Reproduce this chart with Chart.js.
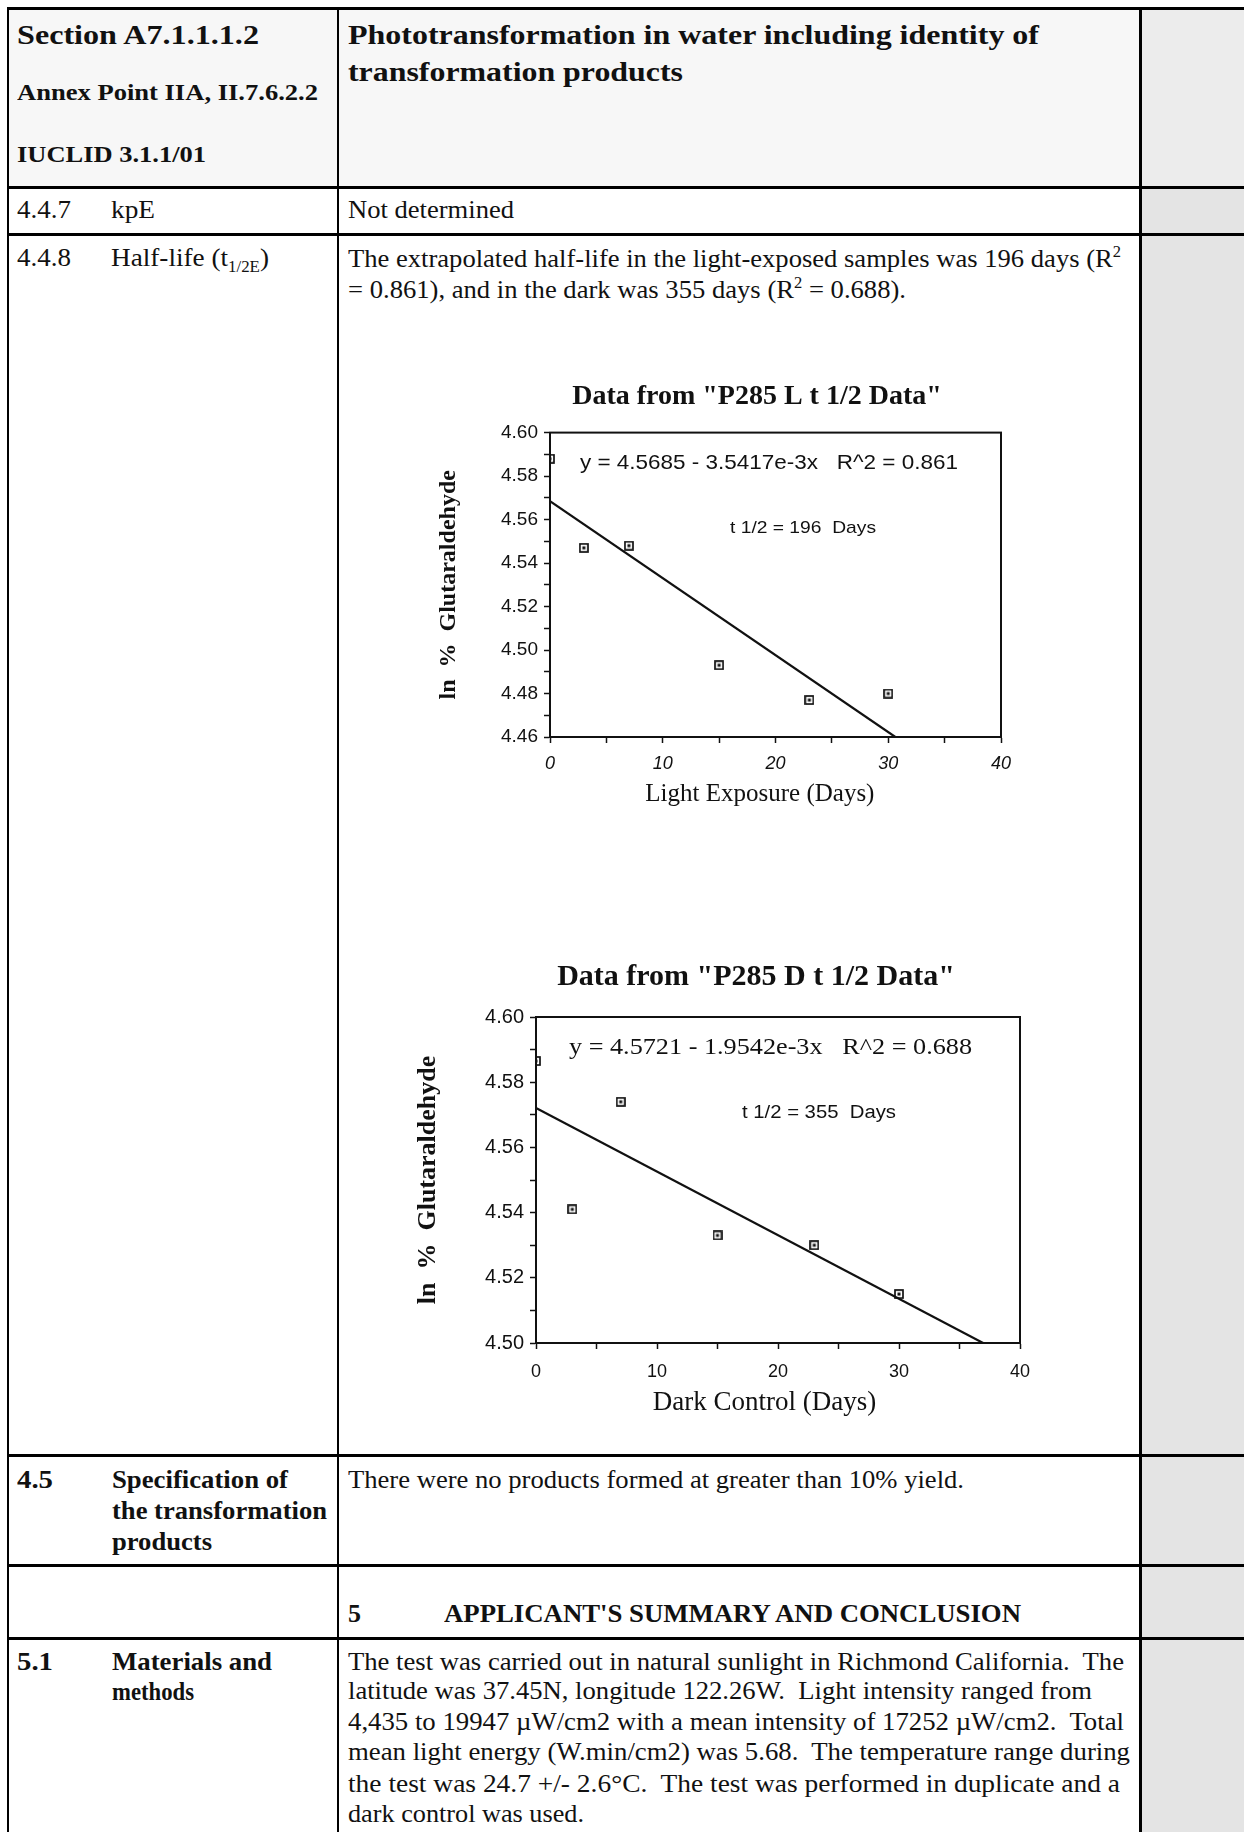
<!DOCTYPE html>
<html>
<head>
<meta charset="utf-8">
<script src="https://cdn.jsdelivr.net/npm/chart.js@4.4.0/dist/chart.umd.min.js"></script>
<style>
body { margin: 0; background: #fff; }
#page { position: relative; width: 1244px; height: 1832px; overflow: hidden; background: #fff;
        font-family: "Liberation Serif", "Times New Roman", serif; color: #111; }
.t { position: absolute; white-space: nowrap; line-height: 30px; height: 30px; font-size: 26px; transform-origin: 0 50%; }
.b { font-weight: bold; }
.ln { position: absolute; background: #000; }
.bg { position: absolute; }
canvas { position: absolute; }
sup, sub { font-size: 62%; line-height: 0; }
</style>
</head>
<body>
<div id="page">
  <!-- cell shading -->
  <div class="bg" style="left:9px;top:10px;width:1130px;height:176px;background:#f7f7f7"></div>
  <div class="bg" style="left:1142px;top:10px;width:102px;height:176px;background:#ececec"></div>
  <div class="bg" style="left:1142px;top:189px;width:102px;height:1643px;background:#e4e4e4"></div>

  <!-- table rules -->
  <div class="ln" style="left:7px;top:7px;width:1237px;height:3px"></div>
  <div class="ln" style="left:7px;top:186px;width:1237px;height:3px"></div>
  <div class="ln" style="left:7px;top:233px;width:1237px;height:3px"></div>
  <div class="ln" style="left:7px;top:1454px;width:1237px;height:3px"></div>
  <div class="ln" style="left:7px;top:1564px;width:1237px;height:3px"></div>
  <div class="ln" style="left:7px;top:1637px;width:1237px;height:3px"></div>
  <div class="ln" style="left:7px;top:7px;width:2px;height:1825px"></div>
  <div class="ln" style="left:337px;top:7px;width:2px;height:1825px"></div>
  <div class="ln" style="left:1139px;top:7px;width:3px;height:1825px"></div>

  <!-- header row -->
  <div class="t b" style="left:17px;top:20px;font-size:27px" data-w="242">Section A7.1.1.1.2</div>
  <div class="t b" style="left:17px;top:77px;font-size:24px" data-w="301">Annex Point IIA, II.7.6.2.2</div>
  <div class="t b" style="left:17px;top:139px;font-size:24px" data-w="189">IUCLID 3.1.1/01</div>
  <div class="t b" style="left:348px;top:20px;font-size:27px" data-w="691">Phototransformation in water including identity of</div>
  <div class="t b" style="left:348px;top:57px;font-size:27px" data-w="335">transformation products</div>

  <!-- 4.4.7 -->
  <div class="t" style="left:17px;top:195px" data-w="54">4.4.7</div>
  <div class="t" style="left:111px;top:195px" data-w="44">kpE</div>
  <div class="t" style="left:348px;top:195px" data-w="166">Not determined</div>

  <!-- 4.4.8 -->
  <div class="t" style="left:17px;top:243px" data-w="54">4.4.8</div>
  <div class="t" style="left:111px;top:243px" data-w="158">Half-life (t<sub>1/2E</sub>)</div>
  <div class="t" style="left:348px;top:244px" data-w="773">The extrapolated half-life in the light-exposed samples was 196 days (R<sup>2</sup></div>
  <div class="t" style="left:348px;top:275px" data-w="558">= 0.861), and in the dark was 355 days (R<sup>2</sup> = 0.688).</div>

  <canvas id="lightChart" width="714" height="450" style="left:400px;top:372px"></canvas>
  <canvas id="darkChart" width="732" height="490" style="left:390px;top:945px"></canvas>

  <!-- 4.5 -->
  <div class="t b" style="left:17px;top:1465px" data-w="36">4.5</div>
  <div class="t b" style="left:112px;top:1465px" data-w="176">Specification of</div>
  <div class="t b" style="left:112px;top:1496px" data-w="215">the transformation</div>
  <div class="t b" style="left:112px;top:1527px" data-w="100">products</div>
  <div class="t" style="left:348px;top:1465px" data-w="616">There were no products formed at greater than 10% yield.</div>

  <!-- 5 -->
  <div class="t b" style="left:348px;top:1599px">5</div>
  <div class="t b" style="left:444px;top:1599px" data-w="577">APPLICANT'S SUMMARY AND CONCLUSION</div>

  <!-- 5.1 -->
  <div class="t b" style="left:17px;top:1647px" data-w="36">5.1</div>
  <div class="t b" style="left:112px;top:1647px" data-w="160">Materials and</div>
  <div class="t b" style="left:112px;top:1677px" data-w="82">methods</div>
  <div class="t" style="left:348px;top:1647px" data-w="776">The test was carried out in natural sunlight in Richmond California.&nbsp; The</div>
  <div class="t" style="left:348px;top:1676px" data-w="744">latitude was 37.45N, longitude 122.26W.&nbsp; Light intensity ranged from</div>
  <div class="t" style="left:348px;top:1707px" data-w="776">4,435 to 19947 µW/cm2 with a mean intensity of 17252 µW/cm2.&nbsp; Total</div>
  <div class="t" style="left:348px;top:1737px" data-w="782">mean light energy (W.min/cm2) was 5.68.&nbsp; The temperature range during</div>
  <div class="t" style="left:348px;top:1769px" data-w="772">the test was 24.7 +/- 2.6°C.&nbsp; The test was performed in duplicate and a</div>
  <div class="t" style="left:348px;top:1799px" data-w="236">dark control was used.</div>
</div>

<script>
// Sampling days (same for both plots)
const days = [0, 3, 7, 15, 23, 30];

// ln % glutaraldehyde
const lightLnPct = [4.588, 4.547, 4.548, 4.493, 4.477, 4.480];
const darkLnPct = [4.5865, 4.541, 4.574, 4.533, 4.530, 4.515];

// regression line end points as drawn
const lightFitDays = [0, 30.63];
const lightFitLn = [4.5685, 4.46];
const darkFitDays = [0, 36.95];
const darkFitLn = [4.5721, 4.50];

// tick labels
const xTicks = [0, 10, 20, 30, 40];
const lightYTicks = [4.46, 4.48, 4.50, 4.52, 4.54, 4.56, 4.58, 4.60];
const darkYTicks = [4.50, 4.52, 4.54, 4.56, 4.58, 4.60];

// squeeze the table text to the widths in the scan
document.querySelectorAll('.t[data-w]').forEach(function (el) {
    const w = el.getBoundingClientRect().width;
    el.style.transform = 'scaleX(' + (el.dataset.w / w) + ')';
});

// square marker with a dot in it
function makeMarker(size) {
    const c = document.createElement('canvas');
    c.width = size;
    c.height = size;
    const g = c.getContext('2d');
    g.strokeStyle = '#111';
    g.lineWidth = 1.7;
    g.strokeRect(1, 1, size - 2, size - 2);
    g.fillStyle = '#111';
    g.fillRect(size / 2 - 1.5, size / 2 - 1.5, 3, 3);
    return c;
}

function hasTick(list, v) {
    return list.some(t => Math.abs(t - v) < 1e-6);
}

// frame round the plot area plus the fit text
const framePlugin = {
    id: 'frame',
    afterDraw(chart, args, opts) {
        const a = chart.chartArea;
        const ctx = chart.ctx;
        ctx.save();
        ctx.strokeStyle = '#111';
        ctx.lineWidth = 2;
        ctx.strokeRect(a.left, a.top, a.right - a.left, a.bottom - a.top);
        ctx.fillStyle = '#111';
        ctx.textBaseline = 'middle';
        (opts.notes || []).forEach(n => {
            ctx.font = n.font;
            const m = ctx.measureText(n.text).width;
            ctx.save();
            ctx.translate(n.x, n.y);
            ctx.scale(n.w / m, 1);
            ctx.fillText(n.text, 0, 0);
            ctx.restore();
        });
        ctx.restore();
    }
};

function buildChart(id, o) {
    return new Chart(document.getElementById(id), {
        type: 'scatter',
        data: {
            datasets: [
                {
                    data: days.map((d, i) => ({ x: d, y: o.values[i] })),
                    pointStyle: makeMarker(o.marker),
                    pointRadius: o.marker / 2,
                    showLine: false
                },
                {
                    data: o.fitX.map((d, i) => ({ x: d, y: o.fitY[i] })),
                    showLine: true,
                    borderColor: '#111',
                    borderWidth: 2.2,
                    pointRadius: 0
                }
            ]
        },
        options: {
            responsive: false,
            animation: false,
            events: [],
            layout: { padding: 0 },
            plugins: {
                legend: { display: false },
                tooltip: { enabled: false },
                title: {
                    display: true,
                    text: o.title,
                    color: '#111',
                    font: { family: 'Liberation Serif', weight: 'bold', size: o.titleSize },
                    padding: { top: o.titleTop, bottom: o.titleBottom }
                },
                frame: { notes: o.notes }
            },
            scales: {
                x: {
                    type: 'linear',
                    min: xTicks[0],
                    max: xTicks[xTicks.length - 1],
                    afterFit: s => { s.height = o.xHeight; },
                    ticks: {
                        stepSize: 5,
                        autoSkip: false,
                        maxRotation: 0,
                        padding: o.xTickPad,
                        color: '#111',
                        font: { family: 'Liberation Sans', size: 18, style: o.xItalic ? 'italic' : 'normal' },
                        callback: v => hasTick(xTicks, v) ? String(v) : ''
                    },
                    grid: { drawOnChartArea: false, color: '#111', tickLength: 6, tickWidth: 1.5 },
                    border: { color: '#111', width: 2 },
                    title: {
                        display: true,
                        text: o.xTitle,
                        color: '#111',
                        font: { family: 'Liberation Serif', size: o.xTitleSize },
                        padding: { top: 0, bottom: o.xTitlePad }
                    }
                },
                y: {
                    type: 'linear',
                    min: o.yTicks[0],
                    max: o.yTicks[o.yTicks.length - 1],
                    afterFit: s => { s.width = o.yWidth; },
                    ticks: {
                        stepSize: 0.01,
                        autoSkip: false,
                        padding: 6,
                        color: '#111',
                        font: { family: 'Liberation Sans', size: o.yTickSize },
                        callback: v => hasTick(o.yTicks, v) ? v.toFixed(2) : ''
                    },
                    grid: { drawOnChartArea: false, color: '#111', tickLength: 6, tickWidth: 1.5 },
                    border: { color: '#111', width: 2 },
                    title: {
                        display: true,
                        text: 'ln  %  Glutaraldehyde',
                        color: '#111',
                        font: { family: 'Liberation Serif', weight: 'bold', size: o.yTitleSize },
                        padding: { top: o.yTitlePad, bottom: 0 }
                    }
                },
                // empty right-hand box so the title centres where the scan has it
                spacer: {
                    type: 'linear',
                    position: 'right',
                    afterFit: s => { s.width = o.rightGap; },
                    ticks: { display: false },
                    grid: { display: false },
                    border: { display: false }
                }
            }
        },
        plugins: [framePlugin]
    });
}

buildChart('lightChart', {
    values: lightLnPct,
    fitX: lightFitDays,
    fitY: lightFitLn,
    yTicks: lightYTicks,
    marker: 10,
    title: 'Data from "P285 L t 1/2 Data"',
    titleSize: 28,
    titleTop: 8,
    titleBottom: 19,
    rightGap: 113,
    xHeight: 85,
    xTickPad: 10,
    xItalic: true,
    xTitle: 'Light Exposure (Days)     ',
    xTitleSize: 25,
    xTitlePad: 13,
    yWidth: 150,
    yTickSize: 19,
    yTitleSize: 24,
    yTitlePad: 34,
    notes: [
        { text: 'y = 4.5685 - 3.5417e-3x   R^2 = 0.861', font: '21px "Liberation Sans"', x: 180, y: 91, w: 378 },
        { text: 't 1/2 = 196  Days', font: '17px "Liberation Sans"', x: 330, y: 156, w: 146 }
    ]
});

buildChart('darkChart', {
    values: darkLnPct,
    fitX: darkFitDays,
    fitY: darkFitLn,
    yTicks: darkYTicks,
    marker: 10,
    title: 'Data from "P285 D t 1/2 Data"',
    titleSize: 30,
    titleTop: 14,
    titleBottom: 22,
    rightGap: 102,
    xHeight: 92,
    xTickPad: 12,
    xItalic: false,
    xTitle: 'Dark Control (Days)    ',
    xTitleSize: 27,
    xTitlePad: 16,
    yWidth: 146,
    yTickSize: 20,
    yTitleSize: 26,
    yTitlePad: 23,
    notes: [
        { text: 'y = 4.5721 - 1.9542e-3x   R^2 = 0.688', font: '24px "Liberation Serif"', x: 179, y: 103, w: 403 },
        { text: 't 1/2 = 355  Days', font: '18px "Liberation Sans"', x: 352, y: 168, w: 154 }
    ]
});
</script>
</body>
</html>
